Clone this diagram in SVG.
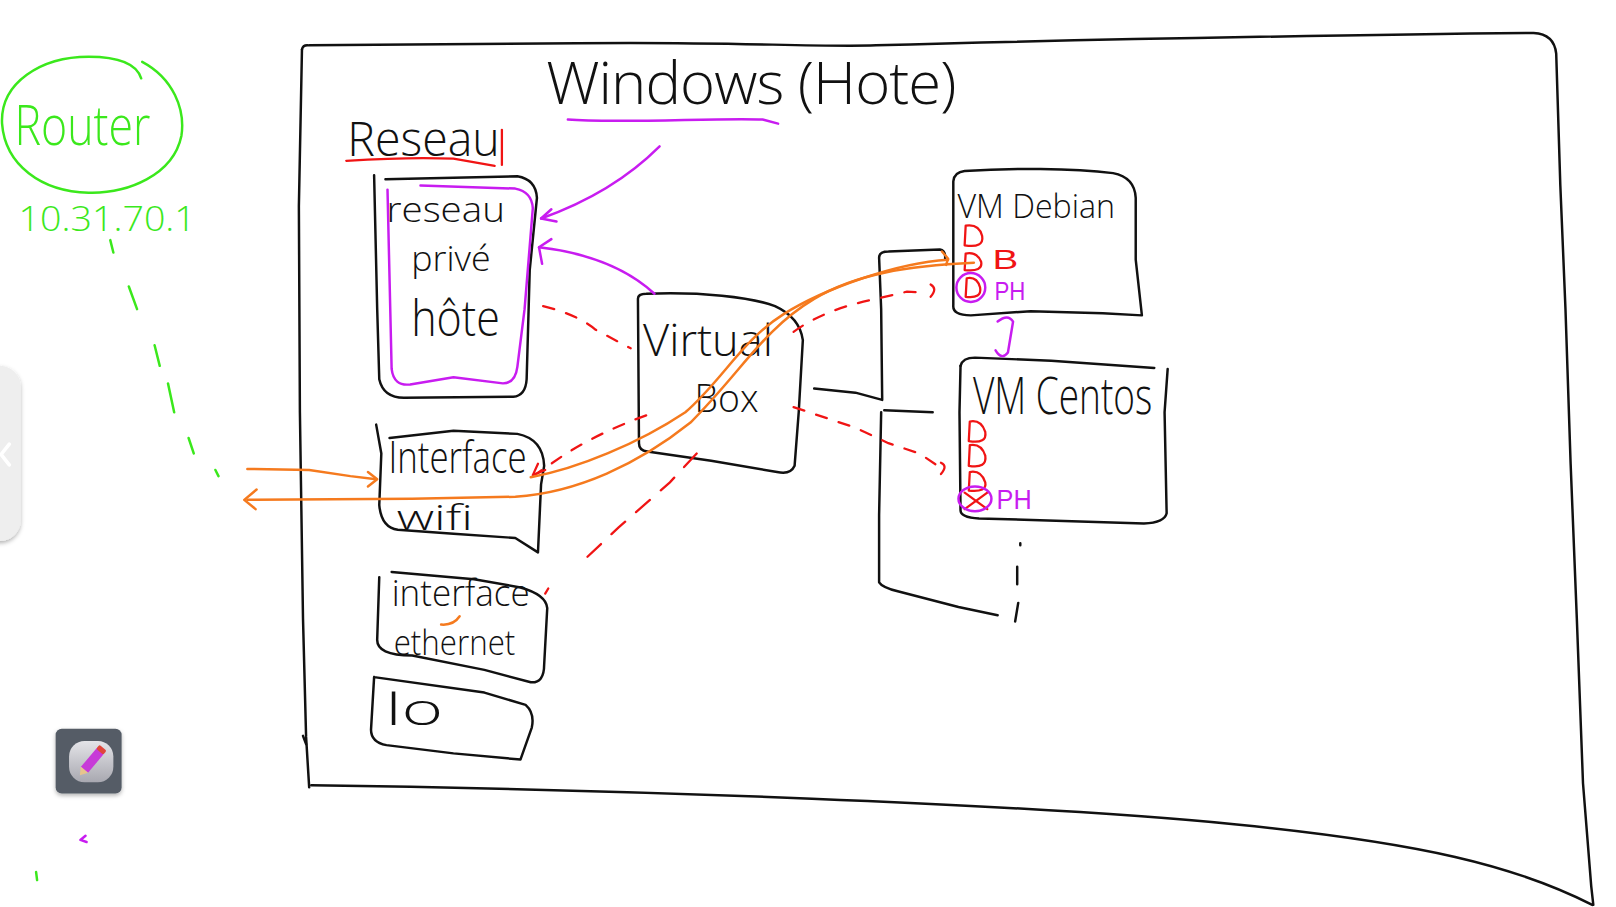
<svg xmlns="http://www.w3.org/2000/svg" width="1616" height="907" viewBox="0 0 1616 907">
<defs>
<style>
.k{fill:none;stroke:#111;stroke-width:2.4;stroke-linecap:round;stroke-linejoin:round}
.g{fill:none;stroke:#3be81c;stroke-width:2.4;stroke-linecap:round;stroke-linejoin:round}
.m{fill:none;stroke:#c81cf0;stroke-width:2.4;stroke-linecap:round;stroke-linejoin:round}
.r{fill:none;stroke:#f01414;stroke-width:2.2;stroke-linecap:round;stroke-linejoin:round}
.rd{fill:none;stroke:#f01414;stroke-width:2.2;stroke-linecap:round;stroke-dasharray:11 12}
.o{fill:none;stroke:#f57a1e;stroke-width:2.4;stroke-linecap:round;stroke-linejoin:round}
.t{font-family:"Open Sans","Liberation Sans",sans-serif;font-weight:300;fill:#111}
.tg{font-family:"Open Sans","Liberation Sans",sans-serif;font-weight:300;fill:#3be81c}
.tm{font-family:"Liberation Sans",sans-serif;fill:#c81cf0}
.tr{font-family:"Liberation Sans",sans-serif;fill:#f01414}
</style>
<linearGradient id="btn" x1="0" y1="0" x2="0" y2="1">
<stop offset="0" stop-color="#e4e4e8"/>
<stop offset="1" stop-color="#a8a8b0"/>
</linearGradient>
<filter id="sh" x="-30%" y="-30%" width="160%" height="160%">
<feDropShadow dx="0" dy="2" stdDeviation="2" flood-color="#000" flood-opacity="0.3"/>
</filter>
</defs>
<rect width="1616" height="907" fill="#ffffff"/>
<g transform="scale(1.0306)">

<!-- UI overlay -->
<g id="ui-tab">
<rect x="-24" y="355" width="44" height="170" rx="20" fill="#eeeeee" filter="url(#sh)"/>
<polyline points="9,431 1,441 9,451" fill="none" stroke="#ffffff" stroke-width="3.5" stroke-linecap="round"/>
</g>
<g id="ui-pencil">
<rect x="54" y="707" width="64" height="63" rx="6" fill="#545c66" filter="url(#sh)"/>
<rect x="67" y="719" width="43" height="40" rx="15" fill="url(#btn)"/>
<g transform="rotate(40 88 739)">
<rect x="84" y="725" width="9" height="24" fill="#c73ad8"/>
<rect x="84" y="721" width="9" height="5" rx="1.5" fill="#e0463a"/>
<polygon points="84,749 93,749 88.5,756" fill="#e7c48c"/>
</g>
</g>

<!-- Windows host frame -->
<g id="windows-host">
<path class="k" d="M 293 48 Q 294 43 300 44 L 560 42 C 700 40 790 46 850 44 C 1100 37 1380 33 1488 32 Q 1508 33 1510 52 L 1514 180 L 1519 300 L 1524 450 L 1530 600 L 1536 760 L 1544 860 L 1546 878"/>
<path class="k" d="M 293 48 L 290 200 L 291 400 L 294 600 L 297 715 L 300 764"/>
<path class="k" d="M 294 714 L 297 722"/>
<path class="k" d="M 302 762 C 600 766 1000 780 1200 800 C 1380 818 1470 840 1545 878"/>
<text class="t" x="530" y="101" font-size="58" textLength="398" lengthAdjust="spacing">Windows (Hote)</text>
<path class="m" d="M 551 116 C 600 120 700 114 740 116 L 755 120"/>
</g>

<!-- Router -->
<g id="router">
<path class="g" d="M 138 60 C 168 76 180 106 176 132 C 168 170 124 188 86 187 C 40 186 5 160 2 120 C 0 80 40 55 86 55 C 112 55 132 60 137 76"/>
<text class="tg" x="14" y="141" font-size="54" textLength="132" lengthAdjust="spacingAndGlyphs">Router</text>
<text class="tg" x="18" y="224" font-size="34" textLength="172" lengthAdjust="spacingAndGlyphs">10.31.70.1</text>
</g>

<!-- Reseau label -->
<g id="reseau-label">
<text class="t" x="337" y="151" font-size="46" textLength="148" lengthAdjust="spacingAndGlyphs">Reseau</text>
<path class="r" d="M 336 156 Q 400 152 440 154 L 480 161"/>
<path class="r" d="M 487 126 L 487 160"/>
</g>

<!-- Reseau prive hote -->
<g id="reseau-prive-hote">
<path class="k" d="M 363 170 L 366 300 L 368 368 Q 372 386 392 386 L 498 385 Q 510 384 511 368 L 514 262 L 521 192 Q 520 174 502 171 L 374 174"/>
<path class="m" d="M 376 184 L 380 358 Q 382 375 398 373 L 440 366 L 488 372 Q 500 372 502 356 L 509 300 L 517 202 Q 516 186 500 183 L 408 180"/>
<text class="t" x="375" y="215" font-size="34" textLength="115" lengthAdjust="spacingAndGlyphs">reseau</text>
<text class="t" x="399" y="263" font-size="34" textLength="77" lengthAdjust="spacingAndGlyphs">privé</text>
<text class="t" x="399" y="326" font-size="48" textLength="86" lengthAdjust="spacingAndGlyphs">hôte</text>
</g>

<!-- VirtualBox -->
<g id="virtualbox">
<path class="k" d="M 619 290 Q 619 285 627 285 C 680 283 728 288 752 297 Q 776 308 779 330 L 775 400 L 771 452 Q 767 461 754 458 L 690 447 L 628 438 Q 620 437 620 430 Z"/>
<text class="t" x="624" y="345" font-size="42" textLength="126" lengthAdjust="spacingAndGlyphs">Virtual</text>
<text class="t" x="674" y="400" font-size="38" textLength="62" lengthAdjust="spacingAndGlyphs">Box</text>
</g>

<!-- VM Debian -->
<g id="vm-debian">
<path class="k" d="M 925 176 Q 926 167 936 166 C 980 163 1040 163 1080 168 Q 1101 172 1102 192 L 1102 252 L 1108 306 L 1070 304 L 1000 302 L 942 306 Q 924 306 925 296 Z"/>
<text class="t" x="929" y="212" font-size="32" textLength="153" lengthAdjust="spacingAndGlyphs">VM Debian</text>
<path class="r" d="M 937 219 L 936 238 Q 955 241 953 229 Q 950 217 937 219"/>
<path class="r" d="M 937 246 L 936 262 Q 954 264 952 254 Q 948 244 937 246"/>
<path class="r" d="M 938 270 L 937 288 Q 953 290 951 279 Q 948 268 938 270"/>
<text class="tr" x="963" y="261" font-size="27" textLength="25" lengthAdjust="spacingAndGlyphs">B</text>
<circle class="m" cx="942" cy="279" r="14"/>
<text class="tm" x="965" y="291" font-size="25" textLength="30" lengthAdjust="spacingAndGlyphs">PH</text>
</g>

<!-- VM Centos -->
<g id="vm-centos">
<path class="k" d="M 932 355 Q 934 347 946 347 L 1020 350 L 1120 357"/>
<path class="k" d="M 1133 358 L 1130 400 L 1132 498 Q 1130 507 1110 508 L 950 503 Q 932 502 932 495 L 931 400 L 932 355"/>
<text class="t" x="944" y="402" font-size="50" textLength="174" lengthAdjust="spacingAndGlyphs">VM Centos</text>
<path class="r" d="M 941 409 L 940 428 Q 958 431 956 419 Q 952 407 941 409"/>
<path class="r" d="M 941 432 L 940 452 Q 958 455 956 442 Q 952 430 941 432"/>
<path class="r" d="M 941 458 L 940 476 Q 958 478 956 468 Q 952 456 941 458"/>
<path class="r" d="M 936 478 L 958 494 M 958 478 L 936 494"/>
<ellipse class="m" cx="946" cy="484" rx="16" ry="12"/>
<text class="tm" x="967" y="494" font-size="27" textLength="34" lengthAdjust="spacingAndGlyphs">PH</text>
</g>

<!-- Interface wifi -->
<g id="interface-wifi">
<path class="k" d="M 365 412 L 370 440 L 368 490 Q 370 512 386 514 L 440 518 L 500 522 L 522 536 L 525 470 L 528 452 Q 527 426 502 421 L 440 418 L 378 425"/>
<text class="t" x="377" y="459" font-size="42" textLength="134" lengthAdjust="spacingAndGlyphs">Interface</text>
<text class="t" x="385" y="514" font-size="34" textLength="74" lengthAdjust="spacingAndGlyphs">wifi</text>
</g>

<!-- Interface ethernet -->
<g id="interface-ethernet">
<path class="k" d="M 380 555 L 460 562 L 505 570 Q 530 577 531 590 L 528 645 Q 528 663 515 662 L 470 650 L 400 636 Q 365 636 366 620 L 368 560"/>
<text class="t" x="380" y="588" font-size="36" textLength="134" lengthAdjust="spacingAndGlyphs">interface</text>
<text class="t" x="382" y="636" font-size="34" textLength="118" lengthAdjust="spacingAndGlyphs">ethernet</text>
<path class="o" d="M 428 606 Q 440 607 446 598"/>
</g>

<!-- lo -->
<g id="lo">
<path class="k" d="M 363 657 L 470 672 L 510 684 Q 519 692 516 706 L 505 737 L 440 731 L 375 723 Q 360 720 360 708 L 363 657"/>
<text class="t" x="374" y="703" font-size="42" textLength="56" lengthAdjust="spacingAndGlyphs">lo</text>
</g>

<!-- connectors -->
<g id="connectors">
<path class="g" d="M 107 233 L 110 245 M 125 278 L 133 300 M 150 335 L 155 355 M 163 372 L 169 400 M 183 425 L 188 440 M 209 456 L 212 462"/>
<path class="g" d="M 35 846 L 36 854"/>
<path class="m" d="M 83 811 L 78 815 L 84 817"/>
<path class="m" d="M 640 142 C 610 172 570 196 525 212"/>
<path class="m" d="M 535 203 L 525 212 L 540 215"/>
<path class="m" d="M 635 285 C 610 262 575 246 523 240"/>
<path class="m" d="M 535 232 L 523 240 L 526 256"/>
<path class="m" d="M 968 312 Q 978 304 983 312 L 978 342 Q 972 350 966 340"/>
<path class="k" d="M 790 377 L 830 381 L 856 388 L 855 300 L 853 250 Q 853 244 862 244 L 912 242 Q 918 243 917 252"/>
<path class="k" d="M 858 398 L 905 400"/>
<path class="k" d="M 855 400 L 853 500 L 853 565 Q 856 570 872 574 L 930 589 L 968 597"/>
<path class="k" d="M 990 527 L 990 529 M 987 550 L 987 567 M 988 585 L 985 603"/>
<path class="rd" d="M 527 297 Q 560 305 578 320 L 612 338"/>
<path class="rd" d="M 627 403 Q 580 420 545 443 L 520 460"/>
<path class="r" d="M 517 461 L 529 456 M 517 461 L 522 450"/>
<path class="rd" d="M 676 440 L 650 468 L 600 512 L 565 545" style="stroke-dasharray:18 14"/>
<path class="rd" d="M 770 322 Q 800 300 850 290 L 880 283 L 900 284"/>
<path class="r" d="M 903 276 Q 910 280 903 288"/>
<path class="rd" d="M 770 395 Q 800 405 830 415 L 862 430 L 892 440 L 910 452"/>
<path class="r" d="M 913 449 Q 920 452 913 460"/>
<path class="r" d="M 529 576 L 532 571"/>
<path class="o" d="M 240 455 L 300 456 L 340 462 L 365 465"/>
<path class="o" d="M 357 458 L 366 465 L 357 472"/>
<path class="o" d="M 240 485 L 400 484 L 500 482 C 560 478 620 450 670 410 C 720 360 740 320 790 290 C 830 266 880 258 945 255"/>
<path class="o" d="M 249 475 L 237 485 L 248 494"/>
<path class="o" d="M 515 463 C 560 455 620 430 665 400 C 700 370 720 330 760 305 C 800 280 870 255 920 252"/>
<path class="o" d="M 914 244 L 920 251 L 918 257"/>
</g>

</g>
</svg>
